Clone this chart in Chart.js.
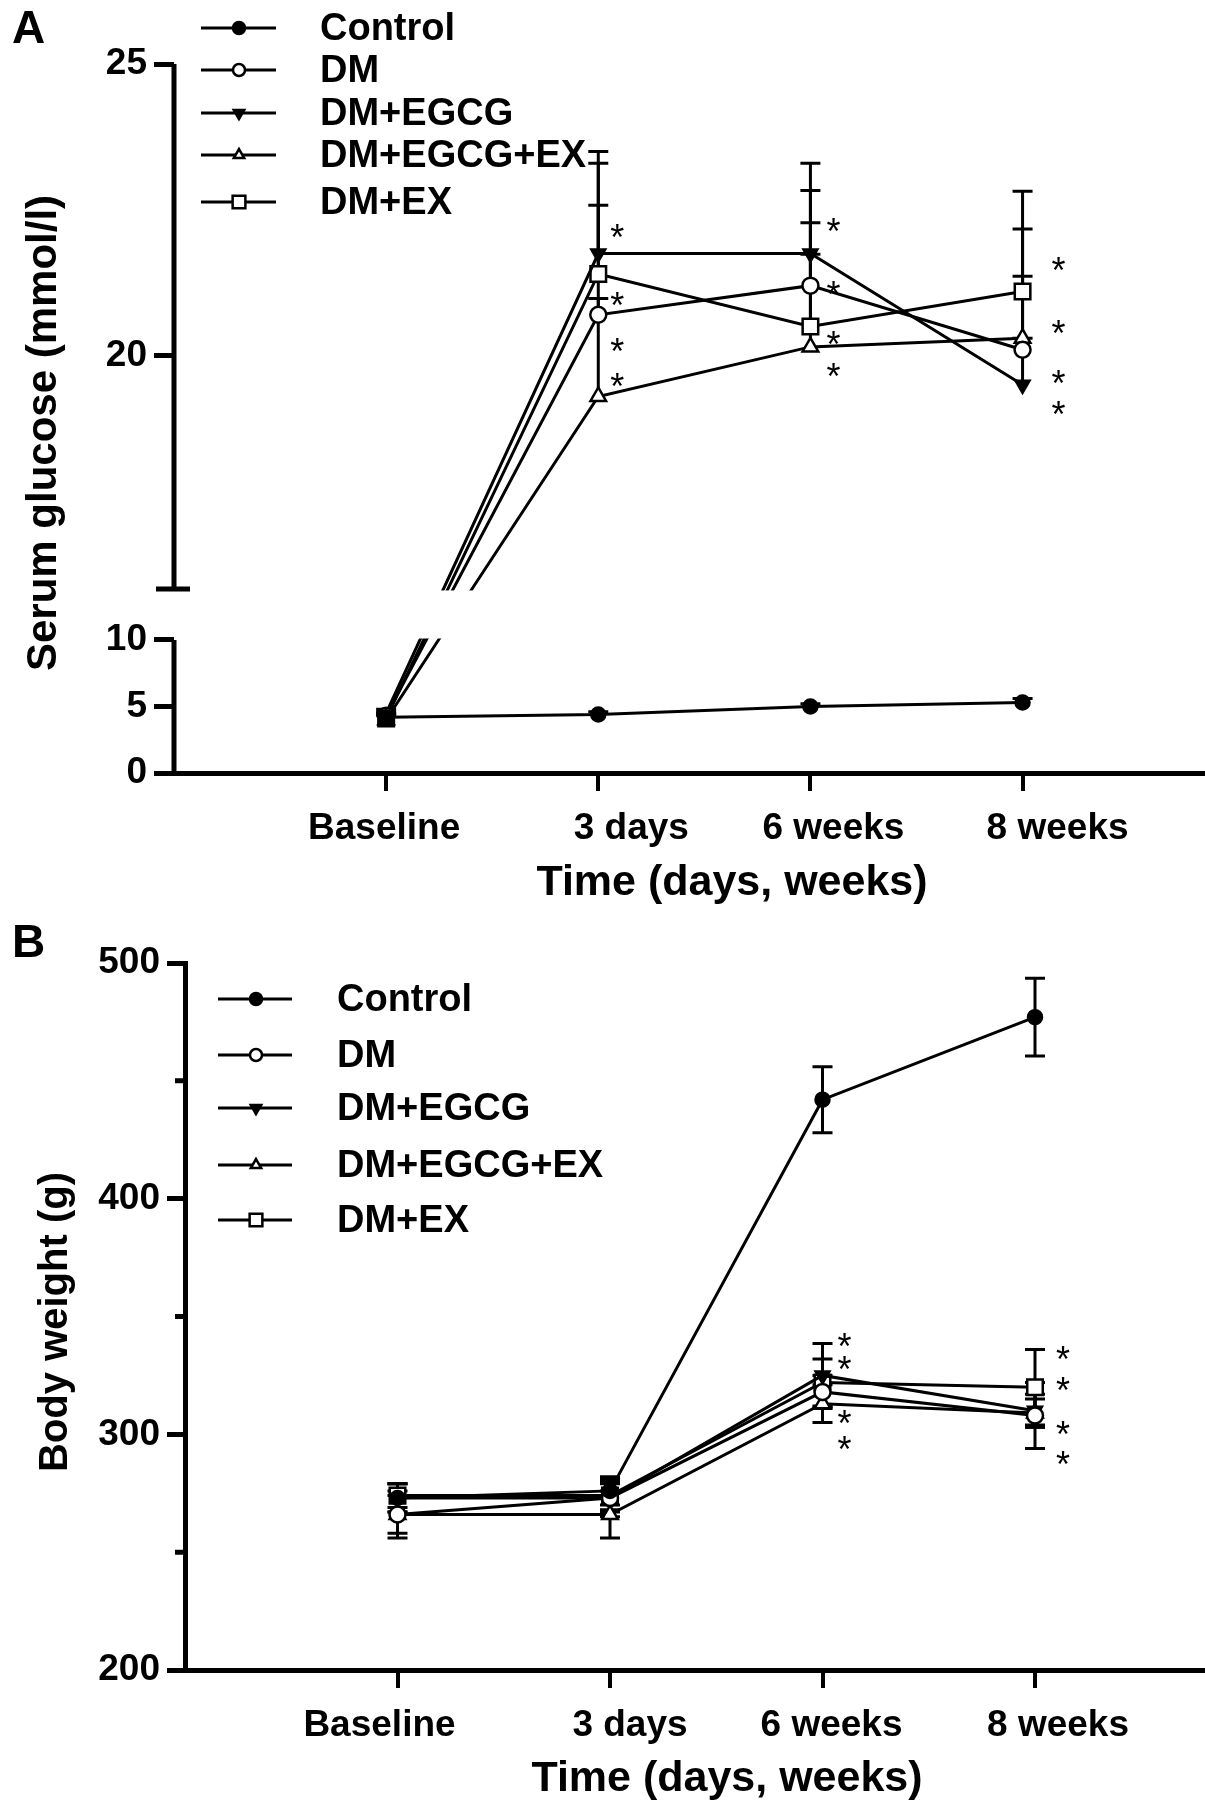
<!DOCTYPE html>
<html>
<head>
<meta charset="utf-8">
<script src="https://cdn.jsdelivr.net/npm/chart.js@4.4.1/dist/chart.umd.min.js"></script>
<style>
  html, body { margin: 0; padding: 0; background: #fff; }
  #wrap { position: relative; width: 1205px; height: 1818px; }
  canvas { position: absolute; left: 0; }
  #chartA { top: 0; }
  #chartB { top: 920px; }
</style>
</head>
<body>
<div id="wrap">
  <canvas id="chartA" width="1205" height="920"></canvas>
  <canvas id="chartB" width="1205" height="898"></canvas>
</div>
<script>
const timeLabels = ["Baseline", "3 days", "6 weeks", "8 weeks"];
const groups = ["Control", "DM", "DM+EGCG", "DM+EGCG+EX", "DM+EX"];

// A - serum glucose (mmol/l), error bars drawn upward only
const glucoseControl = [4.2, 4.4, 5.0, 5.3];
const glucoseDM = [4.3, 20.7, 21.2, 20.1];
const glucoseDMEGCG = [4.5, 21.75, 21.75, 19.5];
const glucoseDMEGCGEX = [4.0, 19.3, 20.15, 20.3];
const glucoseDMEX = [4.1, 21.4, 20.5, 21.1];

const glucoseErrControl = [0.3, 0.2, 0.2, 0.3];
const glucoseErrDM = [0.3, 1.88, 1.63, 2.07];
const glucoseErrDMEGCG = [0.3, 1.55, 1.55, 0.8];
const glucoseErrDMEGCGEX = [0.3, 1.68, 1.59, 1.06];
const glucoseErrDMEX = [0.3, 2.1, 1.78, 1.72];

const glucoseStars = [[], [22.17, 21.0, 20.22, 19.62], [22.28, 21.19, 20.34, 19.79], [21.6, 20.53, 19.67, 19.13]];
const glucoseTicks = [0, 5, 10, 20, 25];
const glucoseBreak = [10, 16];

// B - body weight (g)
const weightControl = [273, 276, 442, 477];
const weightDM = [266, 273, 318, 308];
const weightDMEGCG = [273, 273, 325, 310];
const weightDMEGCGEX = [266, 266, 313, 309];
const weightDMEX = [274, 274, 322, 320];

const weightErrControl = [6, 6, 14, 16.5];
const weightErrDM = [10, 8, 7, 14];
const weightErrDMEGCG = [6, 6, 13.5, 7];
const weightErrDMEGCGEX = [8, 10, 8, 6];
const weightErrDMEX = [5, 6, 10, 16];

const weightStars = [[], [], [341, 331, 308, 297], [335.5, 322, 303.7, 291]];
const weightTicks = [200, 300, 400, 500];
const weightMinorTicks = [250, 350, 450];

const FONT = "'Liberation Sans', Arial, Helvetica, sans-serif";
Chart.defaults.font.family = FONT;
Chart.defaults.color = "#000";

const markers = [
  { style: "circle", bg: "#000", r: 7, rot: 0 },
  { style: "circle", bg: "#fff", r: 8, rot: 0 },
  { style: "triangle", bg: "#000", r: 8, rot: 180 },
  { style: "triangle", bg: "#fff", r: 9, rot: 0 },
  { style: "rect", bg: "#fff", r: 11, rot: 0 }
];

// y scale with an axis break between two value ranges
const LOW_FRAC = 0.1876, GAP_FRAC = 0.072;
class BrokenLinearScale extends Chart.LinearScale {
  getPixelForValue(value) {
    const [lo, hi] = glucoseBreak;
    const h = this.bottom - this.top;
    const lowH = h * LOW_FRAC, gapH = h * GAP_FRAC;
    if (value <= lo) return this.bottom - (value - this.min) / (lo - this.min) * lowH;
    if (value >= hi) return this.bottom - lowH - gapH - (value - hi) / (this.max - hi) * (h - lowH - gapH);
    return this.bottom - lowH - (value - lo) / (hi - lo) * gapH;
  }
  getValueForPixel(pixel) {
    const [lo, hi] = glucoseBreak;
    const h = this.bottom - this.top;
    const lowH = h * LOW_FRAC, gapH = h * GAP_FRAC;
    const d = this.bottom - pixel;
    if (d <= lowH) return this.min + d / lowH * (lo - this.min);
    if (d <= lowH + gapH) return lo + (d - lowH) / gapH * (hi - lo);
    return hi + (d - lowH - gapH) / (h - lowH - gapH) * (this.max - hi);
  }
}
BrokenLinearScale.id = "brokenLinear";
BrokenLinearScale.defaults = Chart.LinearScale.defaults;
Chart.register(BrokenLinearScale);

function makeDatasets(series) {
  return series.map((vals, i) => ({
    label: groups[i],
    data: vals.map((v, k) => ({ x: k + 1, y: v })),
    borderColor: "#000",
    borderWidth: 3,
    tension: 0,
    fill: false,
    pointStyle: markers[i].style,
    pointRotation: markers[i].rot,
    pointRadius: markers[i].r,
    pointBackgroundColor: markers[i].bg,
    pointBorderColor: "#000",
    pointBorderWidth: 2.5
  }));
}

function errorBarPlugin(series, errors, upOnly) {
  return {
    id: "errorBars",
    beforeDatasetsDraw(chart) {
      const { ctx } = chart;
      const xs = chart.scales.x, ys = chart.scales.y;
      ctx.save();
      ctx.strokeStyle = "#000";
      ctx.lineWidth = 3;
      errors.forEach((errs, i) => {
        errs.forEach((e, k) => {
          const v = series[i][k];
          const px = xs.getPixelForValue(k + 1);
          const top = ys.getPixelForValue(v + e);
          const bot = ys.getPixelForValue(upOnly ? v : v - e);
          ctx.beginPath();
          ctx.moveTo(px, top); ctx.lineTo(px, bot);
          ctx.moveTo(px - 10, top); ctx.lineTo(px + 10, top);
          if (!upOnly) { ctx.moveTo(px - 10, bot); ctx.lineTo(px + 10, bot); }
          ctx.stroke();
        });
      });
      ctx.restore();
    }
  };
}

function starPlugin(stars, offsets) {
  return {
    id: "stars",
    afterDatasetsDraw(chart) {
      const { ctx } = chart;
      const xs = chart.scales.x, ys = chart.scales.y;
      ctx.save();
      ctx.font = "36px " + FONT;
      ctx.fillStyle = "#000";
      ctx.textAlign = "center";
      ctx.textBaseline = "alphabetic";
      stars.forEach((list, k) => {
        list.forEach(v => {
          ctx.fillText("*", xs.getPixelForValue(k + 1) + offsets[k], ys.getPixelForValue(v) + 21);
        });
      });
      ctx.restore();
    }
  };
}

function legendPlugin(rowsY, lineX1, lineX2, markX, textX, letter, letterY) {
  return {
    id: "customLegend",
    afterDraw(chart) {
      const { ctx } = chart;
      ctx.save();
      ctx.font = "bold 46px " + FONT;
      ctx.fillStyle = "#000";
      ctx.textAlign = "left";
      ctx.textBaseline = "middle";
      ctx.fillText(letter, 12, letterY);
      ctx.font = "bold 38px " + FONT;
      groups.forEach((g, i) => {
        const y = rowsY[i];
        ctx.strokeStyle = "#000";
        ctx.lineWidth = 3;
        ctx.beginPath();
        ctx.moveTo(lineX1, y); ctx.lineTo(lineX2, y);
        ctx.stroke();
        ctx.fillStyle = markers[i].bg;
        ctx.lineWidth = 2.5;
        Chart.helpers.drawPoint(ctx, {
          pointStyle: markers[i].style,
          rotation: markers[i].rot,
          radius: markers[i].style === "rect" ? 9 : 6,
          borderWidth: 2.5
        }, markX, y);
        ctx.fillStyle = "#000";
        ctx.fillText(g, textX, y + 2);
      });
      ctx.restore();
    }
  };
}

// category labels under the x axis, nudged the way the original figure sets them
function xLabelPlugin(shifts) {
  return {
    id: "xLabels",
    afterDraw(chart) {
      const { ctx, chartArea } = chart;
      const xs = chart.scales.x;
      ctx.save();
      ctx.fillStyle = "#000";
      ctx.textAlign = "center";
      ctx.textBaseline = "alphabetic";
      ctx.font = "bold 37px " + FONT;
      timeLabels.forEach((t, k) => {
        ctx.fillText(t, xs.getPixelForValue(k + 1) + shifts[k], chartArea.bottom + 66);
      });
      ctx.restore();
    }
  };
}

function axisTitlePlugin(yTitle, yPos, xPos, ySize) {
  return {
    id: "axisTitles",
    afterDraw(chart) {
      const { ctx } = chart;
      ctx.save();
      ctx.fillStyle = "#000";
      ctx.textAlign = "center";
      ctx.textBaseline = "middle";
      ctx.font = "bold 43px " + FONT;
      ctx.fillText("Time (days, weeks)", xPos[0], xPos[1]);
      ctx.translate(yPos[0], yPos[1]);
      ctx.rotate(-Math.PI / 2);
      ctx.font = "bold " + ySize + "px " + FONT;
      ctx.fillText(yTitle, 0, 0);
      ctx.restore();
    }
  };
}

// axis break: blank the gap, draw the two y-axis pieces
const breakPlugin = {
  id: "axisBreak",
  afterDatasetsDraw(chart) {
    const { ctx, chartArea } = chart;
    const ys = chart.scales.y;
    const [lo, hi] = glucoseBreak;
    const yLo = ys.getPixelForValue(lo), yHi = ys.getPixelForValue(hi);
    const ax = chartArea.left;
    ctx.save();
    ctx.fillStyle = "#fff";
    ctx.fillRect(ax + 3, yHi + 1.5, chartArea.right - ax, yLo - yHi - 3);
    ctx.strokeStyle = "#000";
    ctx.lineWidth = 5;
    ctx.beginPath();
    ctx.moveTo(ax, ys.getPixelForValue(0) + 2.5); ctx.lineTo(ax, yLo);
    ctx.moveTo(ax, yHi); ctx.lineTo(ax, ys.getPixelForValue(ys.max));
    ctx.moveTo(ax - 18, yHi); ctx.lineTo(ax + 16, yHi);
    ctx.stroke();
    ctx.restore();
  }
};

const minorTickPlugin = {
  id: "minorTicks",
  afterDraw(chart) {
    const { ctx, chartArea } = chart;
    const ys = chart.scales.y;
    ctx.save();
    ctx.strokeStyle = "#000";
    ctx.lineWidth = 5;
    ctx.beginPath();
    weightMinorTicks.forEach(v => {
      const y = ys.getPixelForValue(v);
      ctx.moveTo(chartArea.left - 10, y); ctx.lineTo(chartArea.left, y);
    });
    ctx.stroke();
    ctx.restore();
  }
};

function xAxis(max, height) {
  return {
    type: "linear",
    min: 0,
    max: max,
    afterBuildTicks: s => { s.ticks = [1, 2, 3, 4].map(v => ({ value: v })); },
    afterFit: s => { s.height = height; },
    ticks: { display: false },
    grid: { drawOnChartArea: false, tickLength: 18, lineWidth: 4, color: "#000" },
    border: { display: true, width: 5, color: "#000" },
    title: { display: false }
  };
}

const glucoseSeries = [glucoseControl, glucoseDM, glucoseDMEGCG, glucoseDMEGCGEX, glucoseDMEX];
const glucoseErrors = [glucoseErrControl, glucoseErrDM, glucoseErrDMEGCG, glucoseErrDMEGCGEX, glucoseErrDMEX];

new Chart(document.getElementById("chartA"), {
  type: "line",
  data: { datasets: makeDatasets(glucoseSeries) },
  options: {
    responsive: false,
    animation: false,
    devicePixelRatio: 1,
    events: [],
    layout: { autoPadding: false, padding: { top: 64, left: 0, right: 0, bottom: 0 } },
    plugins: { legend: { display: false }, tooltip: { enabled: false } },
    scales: {
      x: xAxis(4.86, 147),
      y: {
        type: "brokenLinear",
        min: 0,
        max: 25,
        afterBuildTicks: s => { s.ticks = glucoseTicks.map(v => ({ value: v })); },
        afterFit: s => { s.width = 174; },
        ticks: { font: { size: 37, weight: "bold" }, color: "#000", padding: 7 },
        grid: { drawOnChartArea: false, tickLength: 20, lineWidth: 5, color: "#000" },
        border: { display: false },
        title: { display: false }
      }
    }
  },
  plugins: [
    errorBarPlugin(glucoseSeries, glucoseErrors, true),
    breakPlugin,
    starPlugin(glucoseStars, [0, 19, 23, 36]),
    legendPlugin([28, 70, 113, 155, 202], 201, 276, 239, 320, "A", 30),
    xLabelPlugin([-2, 33, 23, 35]),
    axisTitlePlugin("Serum glucose (mmol/l)", [44, 433], [732, 883], 42)
  ]
});

const weightSeries = [weightControl, weightDM, weightDMEGCG, weightDMEGCGEX, weightDMEX];
const weightErrors = [weightErrControl, weightErrDM, weightErrDMEGCG, weightErrDMEGCGEX, weightErrDMEX];

new Chart(document.getElementById("chartB"), {
  type: "line",
  data: { datasets: makeDatasets(weightSeries) },
  options: {
    responsive: false,
    animation: false,
    devicePixelRatio: 1,
    events: [],
    layout: { autoPadding: false, padding: { top: 43, left: 0, right: 0, bottom: 0 } },
    plugins: { legend: { display: false }, tooltip: { enabled: false } },
    scales: {
      x: xAxis(4.8, 148),
      y: {
        type: "linear",
        min: 200,
        max: 500,
        afterBuildTicks: s => { s.ticks = weightTicks.map(v => ({ value: v })); },
        afterFit: s => { s.width = 185; },
        ticks: { font: { size: 37, weight: "bold" }, color: "#000", padding: 7 },
        grid: { drawOnChartArea: false, tickLength: 18, lineWidth: 5, color: "#000" },
        border: { display: true, width: 5, color: "#000" },
        title: { display: false }
      }
    }
  },
  plugins: [
    errorBarPlugin(weightSeries, weightErrors, false),
    minorTickPlugin,
    starPlugin(weightStars, [0, 0, 22, 28]),
    legendPlugin([79, 135, 188, 245, 300], 218, 292, 256, 337, "B", 24),
    xLabelPlugin([-18, 20, 9, 23]),
    axisTitlePlugin("Body weight (g)", [56, 402], [727, 859], 40)
  ]
});
</script>
</body>
</html>
